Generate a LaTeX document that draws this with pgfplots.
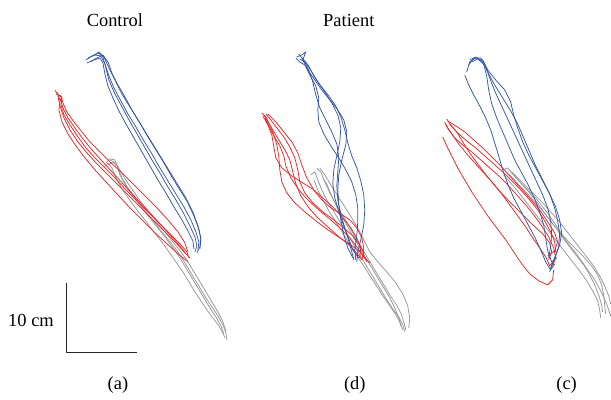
\documentclass[border=0pt]{standalone}
\usepackage{pgfplots}
\pgfplotsset{compat=1.18}
\usepackage{fontspec}
\setmainfont{Liberation Serif}
\definecolor{tb}{RGB}{52,84,170}
\definecolor{tr}{RGB}{238,34,38}
\definecolor{tg}{RGB}{150,150,150}
\begin{document}
\begin{tikzpicture}
\begin{axis}[hide axis, scale only axis, width=611bp, height=400bp,
  xmin=0, xmax=611, ymin=0, ymax=400, y dir=reverse, clip=false,
  every axis plot/.append style={line width=0.75pt, line join=round}]
\draw[draw=none] (axis cs:0,0) rectangle (axis cs:611,400);
% ---------------- panel (a) gray
\addplot[tg] coordinates {(106,163) (110,159) (115,160) (118,168) (122,178) (128,188) (135,198) (143,208) (151,218) (159,228) (167,238) (175,248) (182,258) (188,268) (194,278) (200,288) (206,298) (212,307) (218,316) (223,325) (226,333) (227,340)};
\addplot[tg] coordinates {(108,165) (113,162) (117,166) (120,175) (126,186) (133,196) (141,207) (149,217) (157,227) (165,237) (173,248) (180,258) (186,268) (192,278) (198,288) (204,298) (210,308) (216,317) (221,326) (224,334)};
\addplot[tg] coordinates {(104,168) (108,163) (112,168) (116,178) (122,189) (129,199) (137,210) (145,220) (153,231) (161,241) (169,252) (176,262) (183,272) (189,282) (195,292) (201,301) (207,310) (213,318) (219,326) (223,333) (225,338)};
\addplot[tg] coordinates {(110,160) (116,163) (121,172) (127,182) (134,192) (141,202) (149,212) (157,222) (165,232) (173,242) (181,252) (188,262) (194,272) (200,282) (206,292) (212,302) (218,312) (223,322) (226,331)};
% ---------------- panel (a) red
\addplot[tr] coordinates {(55,90) (58,95) (62,97) (61,105) (64,115) (70,125) (78,137) (86,148) (95,158) (105,168) (115,178) (126,190) (138,202) (150,214) (162,226) (172,236) (181,245) (187,252) (189,258)};
\addplot[tr] coordinates {(57,92) (60,100) (59,110) (62,122) (68,134) (76,146) (85,158) (95,170) (106,182) (118,195) (130,208) (142,220) (154,232) (166,243) (176,252) (183,258) (188,262)};
\addplot[tr] coordinates {(56,94) (61,96) (63,103) (67,112) (74,122) (82,132) (90,142) (100,152) (110,162) (121,172) (133,184) (145,196) (157,208) (168,220) (178,232) (185,243) (188,252)};
\addplot[tr] coordinates {(58,96) (60,106) (64,118) (70,130) (78,142) (87,153) (97,164) (108,175) (120,187) (132,199) (144,211) (156,223) (167,234) (177,244) (184,252) (190,258)};
\addplot[tr] coordinates {(60,98) (63,108) (68,118) (75,128) (83,139) (92,150) (102,161) (113,173) (125,186) (137,199) (149,212) (161,225) (171,236) (180,246) (186,254)};
% ---------------- panel (a) blue
\addplot[tb] coordinates {(86,60) (92,56) (99,53) (103,57) (106,68) (109,80) (114,92) (121,105) (128,118) (136,132) (144,146) (152,160) (160,173) (168,187) (176,200) (184,214) (190,226) (195,237) (197,246) (195,252)};
\addplot[tb] coordinates {(88,58) (95,55) (101,56) (105,64) (109,76) (114,88) (121,101) (128,114) (136,127) (144,141) (152,154) (160,168) (168,181) (176,194) (184,207) (191,220) (196,232) (199,242) (198,250)};
\addplot[tb] coordinates {(90,62) (97,58) (103,55) (108,62) (112,73) (118,85) (125,97) (132,110) (140,123) (148,137) (156,150) (164,163) (172,177) (180,190) (188,203) (194,216) (199,229) (201,240) (200,249)};
\addplot[tb] coordinates {(87,63) (94,60) (100,58) (103,63) (105,74) (108,86) (113,98) (119,111) (126,124) (134,138) (142,152) (150,166) (158,180) (166,193) (174,207) (182,220) (188,231) (193,241) (194,249)};
\addplot[tb] coordinates {(93,56) (99,52) (104,57) (110,70) (116,82) (122,94) (130,107) (138,120) (146,133) (154,146) (162,159) (170,172) (178,185) (186,198) (193,212) (198,226) (201,238) (200,247) (197,253)};
% ---------------- panel (d) gray
\addplot[tg] coordinates {(311,175) (315,172) (318,180) (322,190) (327,200) (333,210) (339,220) (345,230) (351,240) (357,250) (363,260) (369,270) (375,280) (381,290) (387,300) (393,309) (399,317) (403,325) (405,332)};
\addplot[tg] coordinates {(317,168) (321,172) (325,182) (330,193) (336,204) (342,214) (348,224) (354,235) (360,245) (366,255) (372,265) (378,275) (384,285) (390,295) (396,304) (401,313) (404,322) (406,330)};
\addplot[tg] coordinates {(323,178) (327,184) (331,194) (336,205) (342,216) (348,227) (354,238) (360,248) (366,258) (372,268) (378,278) (384,288) (390,298) (395,308) (399,318) (401,326)};
\addplot[tg] coordinates {(320,168) (325,175) (331,185) (338,196) (345,207) (352,218) (359,230) (365,242) (370,252) (378,262) (387,272) (396,283) (403,294) (408,306) (410,318) (409,328)};
\addplot[tg] coordinates {(314,180) (318,190) (323,200) (329,211) (336,222) (343,233) (349,243) (355,253) (362,263) (369,274) (376,285) (383,296) (390,306) (396,315) (400,322) (403,330)};
% ---------------- panel (d) red
\addplot[tr] coordinates {(262,113) (266,117) (270,125) (274,135) (277,145) (279,157) (280,170) (282,182) (287,193) (295,203) (305,212) (316,221) (328,230) (340,238) (351,245) (360,252) (366,259) (370,263)};
\addplot[tr] coordinates {(264,115) (268,122) (273,130) (279,140) (285,150) (290,160) (293,172) (296,184) (301,196) (309,208) (318,218) (328,227) (338,236) (348,244) (356,252) (362,260)};
\addplot[tr] coordinates {(266,114) (271,120) (277,128) (284,137) (290,147) (295,158) (298,170) (300,182) (305,193) (313,203) (323,212) (334,220) (344,228) (353,236) (360,245) (364,253) (362,260)};
\addplot[tr] coordinates {(263,116) (268,125) (272,135) (274,147) (276,158) (282,168) (292,176) (303,183) (314,190) (324,199) (334,208) (343,218) (351,228) (357,238) (361,248) (360,258)};
\addplot[tr] coordinates {(265,118) (269,126) (274,136) (280,146) (284,156) (286,166) (291,178) (299,190) (309,201) (320,211) (331,220) (341,229) (350,238) (357,247) (363,255) (367,262)};
\addplot[tr] coordinates {(268,114) (276,122) (284,132) (292,142) (298,153) (302,165) (307,178) (314,190) (322,200) (331,208) (341,214) (350,220) (357,228) (362,238) (364,248) (363,258)};
% ---------------- panel (d) blue
\addplot[tb] coordinates {(297,57) (302,55) (306,52) (303,60) (308,70) (315,80) (322,90) (330,100) (338,110) (344,120) (347,132) (346,145) (342,160) (339,175) (338,190) (339,205) (341,220) (344,235) (348,248) (353,258)};
\addplot[tb] coordinates {(296,58) (300,62) (305,65) (310,75) (316,86) (319,98) (318,110) (319,122) (324,134) (331,146) (339,158) (346,170) (352,182) (356,195) (358,208) (358,222) (357,236) (355,250) (356,260)};
\addplot[tb] coordinates {(299,54) (304,60) (309,66) (314,76) (321,86) (329,96) (336,106) (341,117) (345,130) (348,143) (352,156) (357,168) (361,181) (364,195) (365,210) (364,225) (361,240) (358,252) (357,262)};
\addplot[tb] coordinates {(300,59) (305,62) (309,70) (313,82) (316,95) (320,108) (326,120) (332,132) (337,144) (339,158) (338,172) (337,186) (338,200) (341,214) (345,228) (349,241) (352,252) (354,260)};
\addplot[tb] coordinates {(302,58) (307,64) (312,72) (318,82) (325,92) (332,103) (338,115) (341,128) (340,142) (337,156) (334,170) (333,184) (335,198) (339,212) (344,226) (349,239) (353,250) (359,258)};
% ---------------- panel (c) gray
\addplot[tg] coordinates {(503,170) (508,168) (513,174) (520,182) (528,190) (536,198) (543,207) (550,216) (556,225) (562,234) (569,242) (577,250) (585,258) (592,266) (598,275) (602,285) (604,295) (605,305) (606,314)};
\addplot[tg] coordinates {(506,172) (512,177) (519,185) (527,193) (535,202) (543,211) (550,220) (557,229) (563,238) (570,247) (577,256) (584,265) (590,275) (595,285) (599,295) (602,305) (603,312)};
\addplot[tg] coordinates {(509,170) (515,176) (522,184) (530,193) (537,202) (544,212) (551,221) (558,230) (565,239) (572,248) (579,257) (586,267) (593,277) (599,287) (604,297) (608,307) (611,316)};
\addplot[tg] coordinates {(504,175) (510,182) (517,190) (524,199) (531,208) (538,217) (545,226) (552,235) (559,244) (566,253) (573,262) (580,271) (587,281) (593,291) (598,301) (600,310) (601,318)};
\addplot[tg] coordinates {(512,172) (519,179) (527,187) (535,195) (543,203) (551,212) (559,221) (566,230) (573,239) (580,248) (587,257) (594,266) (600,276) (605,286) (609,296) (611,304)};
% ---------------- panel (c) red
\addplot[tr] coordinates {(443,137) (447,146) (452,156) (458,168) (465,180) (472,192) (480,204) (488,216) (497,228) (506,240) (514,252) (522,264) (530,274) (539,281) (548,285) (553,280) (554,270)};
\addplot[tr] coordinates {(445,122) (449,130) (455,138) (463,145) (472,152) (481,160) (490,168) (499,176) (508,185) (517,195) (526,205) (534,215) (542,226) (549,237) (554,248) (556,258) (553,266)};
\addplot[tr] coordinates {(447,119) (452,127) (459,134) (467,141) (476,148) (485,156) (494,164) (503,172) (512,181) (521,190) (530,200) (538,210) (545,221) (551,232) (555,242) (556,252)};
\addplot[tr] coordinates {(446,125) (452,134) (459,144) (467,154) (476,164) (485,174) (494,184) (502,194) (510,205) (518,216) (526,227) (533,238) (540,248) (546,257) (550,266) (553,262)};
\addplot[tr] coordinates {(448,121) (456,126) (465,132) (474,140) (483,148) (492,157) (501,166) (510,176) (520,187) (530,198) (540,210) (548,222) (555,233) (558,242) (555,251) (548,256)};
\addplot[tr] coordinates {(450,124) (457,132) (463,142) (470,153) (478,164) (487,176) (497,188) (508,200) (520,212) (532,224) (543,234) (550,243) (552,252) (549,260)};
% ---------------- panel (c) blue
\addplot[tb] coordinates {(467,72) (470,62) (476,58) (483,60) (488,70) (496,80) (505,90) (511,102) (514,115) (518,128) (523,142) (529,155) (536,168) (543,181) (550,194) (556,207) (560,220) (562,233) (560,245) (556,256) (552,266) (550,272)};
\addplot[tb] coordinates {(465,75) (469,85) (474,95) (480,106) (486,118) (491,130) (495,143) (499,156) (503,170) (508,184) (514,198) (521,211) (528,224) (535,237) (541,250) (546,262) (551,270) (555,264)};
\addplot[tb] coordinates {(469,65) (474,58) (481,58) (486,66) (490,78) (495,91) (501,104) (507,117) (513,130) (519,143) (525,156) (531,169) (537,182) (543,195) (548,208) (551,221) (552,234) (551,247) (549,258)};
\addplot[tb] coordinates {(472,62) (478,59) (484,64) (487,76) (489,90) (492,104) (497,118) (503,132) (509,146) (515,160) (522,173) (529,186) (535,199) (540,212) (544,225) (546,238) (548,251) (552,262) (557,258)};
\addplot[tb] coordinates {(470,60) (476,57) (482,61) (488,72) (495,85) (503,98) (511,111) (518,124) (524,138) (530,152) (536,166) (543,180) (550,194) (555,208) (558,221) (560,234) (559,247) (555,258) (551,268)};
% ---------------- scale bar
\addplot[black!85, line width=1pt] coordinates {(67,283) (67,353) (137,353)};
\node[anchor=east, font=\fontsize{18.5}{22}\selectfont, inner sep=0pt] at (axis cs:54,321) {10 cm};
% ---------------- titles and labels
\node[font=\fontsize{18.5}{22}\selectfont, inner sep=0pt] at (axis cs:115,20) {Control};
\node[font=\fontsize{18.5}{22}\selectfont, inner sep=0pt] at (axis cs:349,20) {Patient};
\node[font=\fontsize{18.5}{22}\selectfont, inner sep=0pt] at (axis cs:118,385) {(a)};
\node[font=\fontsize{18.5}{22}\selectfont, inner sep=0pt] at (axis cs:355,385) {(d)};
\node[font=\fontsize{18.5}{22}\selectfont, inner sep=0pt] at (axis cs:567,385) {(c)};
\end{axis}
\end{tikzpicture}
\end{document}
